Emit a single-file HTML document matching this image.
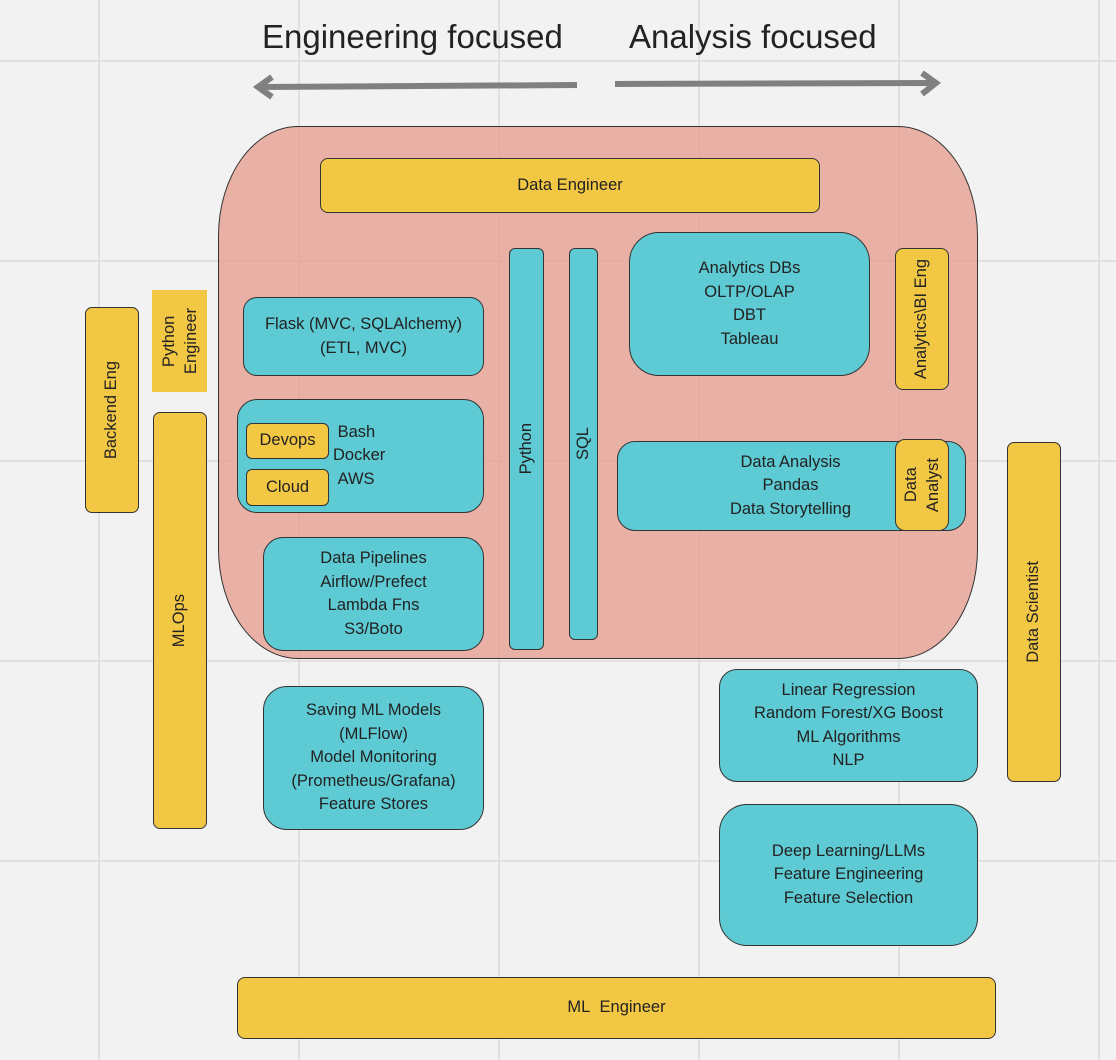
<!DOCTYPE html>
<html><head><style>
body{margin:0;width:1116px;height:1060px;background:#f2f2f2;position:relative;overflow:hidden;font-family:"Liberation Sans",sans-serif;color:#222}
.g{position:absolute;background:#e0e0e0}
.b{position:absolute;box-sizing:border-box;border:1.3px solid #333;display:flex;align-items:center;justify-content:center;text-align:center;font-size:16.5px;line-height:23.5px}
.y{background:#f2c744}
.t{background:#5ecad3}
.v{writing-mode:vertical-rl;transform:rotate(180deg)}
</style></head><body>
<div class="g" style="left:98px;top:0;width:2px;height:1060px"></div>
<div class="g" style="left:298px;top:0;width:2px;height:1060px"></div>
<div class="g" style="left:498px;top:0;width:2px;height:1060px"></div>
<div class="g" style="left:698px;top:0;width:2px;height:1060px"></div>
<div class="g" style="left:898px;top:0;width:2px;height:1060px"></div>
<div class="g" style="left:1098px;top:0;width:2px;height:1060px"></div>
<div class="g" style="top:60px;left:0;height:2px;width:1116px"></div>
<div class="g" style="top:260px;left:0;height:2px;width:1116px"></div>
<div class="g" style="top:460px;left:0;height:2px;width:1116px"></div>
<div class="g" style="top:660px;left:0;height:2px;width:1116px"></div>
<div class="g" style="top:860px;left:0;height:2px;width:1116px"></div>

<div style="position:absolute;left:262px;top:18px;font-size:33px;letter-spacing:0px">Engineering focused</div>
<div style="position:absolute;left:629px;top:18px;font-size:33px;letter-spacing:0px">Analysis focused</div>
<svg style="position:absolute;left:0;top:0" width="1116" height="120">
<g stroke="#808080" stroke-width="6" fill="none">
<line x1="577" y1="85" x2="262" y2="87"/>
<polyline points="272,77 258,87 272,97"/>
<line x1="615" y1="84" x2="932" y2="83"/>
<polyline points="922,73 936,83 922,94"/>
</g></svg>

<div class="b" style="left:218px;top:126px;width:760px;height:533px;background:rgba(230,160,145,0.8);border-radius:80px/110px"></div>

<div class="b y" style="left:320px;top:158px;width:500px;height:55px;border-radius:8px">Data Engineer</div>
<div class="b t" style="left:509px;top:248px;width:35px;height:402px;border-radius:6px"><span class="v">Python</span></div>
<div class="b t" style="left:569px;top:248px;width:29px;height:392px;border-radius:6px"><span class="v">SQL</span></div>
<div class="b t" style="left:629px;top:232px;width:241px;height:144px;border-radius:30px">Analytics DBs<br>OLTP/OLAP<br>DBT<br>Tableau</div>
<div class="b y" style="left:895px;top:248px;width:54px;height:142px;border-radius:8px"><span class="v">Analytics\BI Eng</span></div>
<div class="b t" style="left:243px;top:297px;width:241px;height:79px;border-radius:14px">Flask (MVC, SQLAlchemy)<br>(ETL, MVC)</div>
<div class="b t" style="left:237px;top:399px;width:247px;height:114px;border-radius:20px;justify-content:flex-start;padding-left:95px;text-align:left;line-height:23.5px">&nbsp;Bash<br>Docker<br>&nbsp;AWS</div>
<div class="b y" style="left:246px;top:423px;width:83px;height:36px;border-radius:6px">Devops</div>
<div class="b y" style="left:246px;top:469px;width:83px;height:37px;border-radius:6px">Cloud</div>
<div class="b t" style="left:263px;top:537px;width:221px;height:114px;border-radius:20px">Data Pipelines<br>Airflow/Prefect<br>Lambda Fns<br>S3/Boto</div>
<div class="b t" style="left:617px;top:441px;width:349px;height:90px;border-radius:18px;padding-right:0"><span style="margin-left:-2px">Data Analysis<br>Pandas<br>Data Storytelling</span></div>
<div class="b y" style="left:895px;top:439px;width:54px;height:92px;border-radius:10px;line-height:22px"><span class="v">Data<br>Analyst</span></div>

<div class="b y" style="left:85px;top:307px;width:54px;height:206px;border-radius:7px"><span class="v">Backend Eng</span></div>
<div class="b y" style="left:152px;top:290px;width:55px;height:102px;border:none;line-height:22px"><span class="v">Python<br>Engineer</span></div>
<div class="b y" style="left:153px;top:412px;width:54px;height:417px;border-radius:7px"><span class="v">MLOps</span></div>
<div class="b t" style="left:263px;top:686px;width:221px;height:144px;border-radius:24px">Saving ML Models<br>(MLFlow)<br>Model Monitoring<br>(Prometheus/Grafana)<br>Feature Stores</div>
<div class="b t" style="left:719px;top:669px;width:259px;height:113px;border-radius:18px">Linear Regression<br>Random Forest/XG Boost<br>ML Algorithms<br>NLP</div>
<div class="b y" style="left:1007px;top:442px;width:54px;height:340px;border-radius:7px"><span class="v">Data Scientist</span></div>
<div class="b t" style="left:719px;top:804px;width:259px;height:142px;border-radius:28px">Deep Learning/LLMs<br>Feature Engineering<br>Feature Selection</div>
<div class="b y" style="left:237px;top:977px;width:759px;height:62px;border-radius:8px">ML&nbsp; Engineer</div>
</body></html>
